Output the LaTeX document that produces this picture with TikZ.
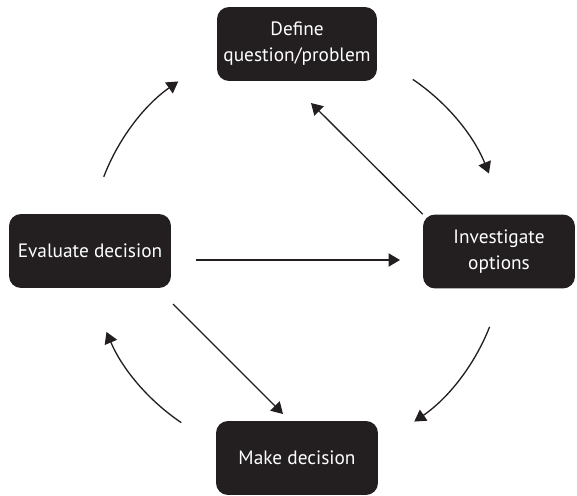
\documentclass[tikz,border=0pt]{standalone}
\usepackage{fontspec}
\setmainfont{PT Sans}
\usetikzlibrary{arrows.meta}
\definecolor{ink}{HTML}{231F20}
\begin{document}
\begin{tikzpicture}[x=0.02cm,y=0.02cm,
  stage/.style={draw=none,fill=ink,rounded corners=0.24cm,text=white,
    inner sep=0pt,minimum height=1.48cm,align=center,
    font=\fontsize{11pt}{14.8pt}\selectfont},
  link/.style={draw=ink,line width=0.75pt,
    -{Triangle[length=6.5pt,width=7.5pt]}}]
  \useasboundingbox (0,0) rectangle (577,-496);

  % the four stages
  \node[stage,minimum width=3.2cm] (def) at (297,-44) {Define\\question/problem};
  \node[stage,minimum width=3.24cm] (eval) at (90,-251) {Evaluate decision};
  \node[stage,minimum width=3.04cm] (inv) at (499,-251.5) {Investigate\\options};
  \node[stage,minimum width=3.24cm] (make) at (297,-458) {Make decision};

  % centre of the cycle
  \coordinate (c) at (297,-251);

  % clockwise cycle arcs
  \coordinate (a1) at ([shift={(159:207)}]c);
  \coordinate (a2) at ([shift={(56:207)}]c);
  \coordinate (a3) at ([shift={(-21.5:207)}]c);
  \coordinate (a4) at ([shift={(236:207)}]c);
  \draw[link] (a1) arc (159:125:207);
  \draw[link] (a2) arc (56:22:207);
  \draw[link] (a3) arc (-21.5:-55.5:207);
  \draw[link] (a4) arc (236:203:207);

  % straight links
  \coordinate (t1) at (311,-103);
  \draw[link] (inv.north west) -- (t1);
  \coordinate (h1) at (196,-260);
  \coordinate (h2) at (400,-260);
  \draw[link] (h1) -- (h2);
  \coordinate (d1) at (173,-304);
  \coordinate (d2) at (283,-414);
  \draw[link] (d1) -- (d2);
\end{tikzpicture}
\end{document}
